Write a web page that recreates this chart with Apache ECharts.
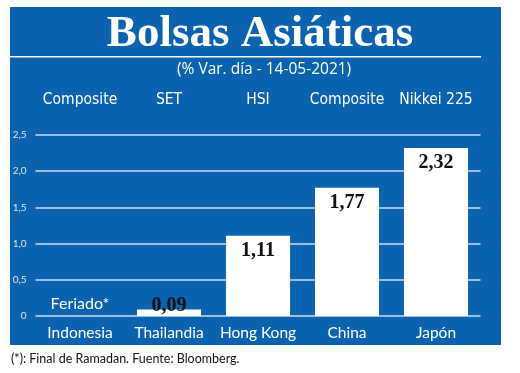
<!DOCTYPE html>
<html><head><meta charset="utf-8">
<script src="https://cdn.jsdelivr.net/npm/echarts@6/dist/echarts.min.js"></script>
<style>html,body{margin:0;padding:0;background:#fff}#c{width:520px;height:373px}</style>
</head><body><div id="c"></div>
<script>
var countries = ['Indonesia', 'Thailandia', 'Hong Kong', 'China', 'Japón'];
var indexNames = ['Composite', 'SET', 'HSI', 'Composite', 'Nikkei 225'];
var values = [0, 0.09, 1.11, 1.77, 2.32];
var notes = ['Feriado*', null, null, null, null];
var yTicks = [0, 0.5, 1.0, 1.5, 2.0, 2.5];

var BLUE = '#0b63b0';
var chart = echarts.init(document.getElementById('c'), null, {renderer: 'canvas'});
var fmt = function (v) { return String(v).replace('.', ','); };

var data = values.map(function (v, i) {
  if (notes[i]) {
    return {value: v, itemStyle: {color: 'rgba(0,0,0,0)'},
      label: {show: true, position: 'top', distance: 4, formatter: notes[i], color: '#fff',
        fontFamily: 'Lato', fontWeight: 'normal', fontSize: 16}};
  }
  if (v < 0.3) {
    return {value: v, label: {show: true, position: 'top', distance: -6}};
  }
  return v;
});

chart.setOption({
  backgroundColor: '#fff',
  animation: false,
  graphic: {elements: [
    {type: 'rect', z: -100, silent: true, shape: {x: 10, y: 7, width: 491, height: 338}, style: {fill: BLUE}},
    {type: 'rect', z: -99, silent: true, shape: {x: 10, y: 56, width: 471, height: 1.5}, style: {fill: '#fff'}}
  ]},
  title: [
    {text: 'Bolsas Asiáticas', left: 'center', top: 12, padding: 0,
      textStyle: {color: '#fff', fontFamily: 'Liberation Serif', fontWeight: 'bold', fontSize: 45}},
    {text: '(% Var. día - 14-05-2021)', left: 177, top: 62, padding: 0,
      textStyle: {color: '#fff', fontFamily: 'Open Sans', fontWeight: 'normal', fontSize: 15.5}},
    {text: '(*): Final de Ramadan. Fuente: Bloomberg.', left: 11, top: 352, padding: 0,
      textStyle: {color: '#111', fontFamily: 'Lato', fontWeight: 'normal', fontSize: 12.5}}
  ],
  grid: {left: 35.5, right: 39.5, top: 135, bottom: 57, containLabel: false},
  xAxis: [
    {type: 'category', data: countries, position: 'bottom',
      axisLine: {show: false}, axisTick: {show: false},
      axisLabel: {interval: 0, color: '#fff', fontFamily: 'Lato', fontSize: 15.5, margin: 9}},
    {type: 'category', data: indexNames, position: 'top',
      axisLine: {show: false}, axisTick: {show: false},
      axisLabel: {interval: 0, color: '#fff', fontFamily: 'DejaVu Sans Condensed', fontSize: 15.5, margin: 27}}
  ],
  yAxis: {type: 'value', min: 0, max: 2.5, interval: 0.5,
    axisLine: {show: false}, axisTick: {show: false},
    axisLabel: {color: '#d7e6f4', fontFamily: 'Lato', fontSize: 10, margin: 9,
      formatter: function (v) { return v === 0 ? '0' : v.toFixed(1).replace('.', ','); }},
    splitLine: {lineStyle: {color: '#c9def2', width: 1.5}}
  },
  series: [{
    type: 'bar', data: data, barCategoryGap: '28%',
    itemStyle: {color: '#fff'},
    label: {show: true, position: 'insideTop', distance: 5, color: '#111',
      fontFamily: 'Liberation Serif', fontWeight: 'bold', fontSize: 20,
      formatter: function (p) { return fmt(p.value); }}
  }]
});
</script></body></html>
